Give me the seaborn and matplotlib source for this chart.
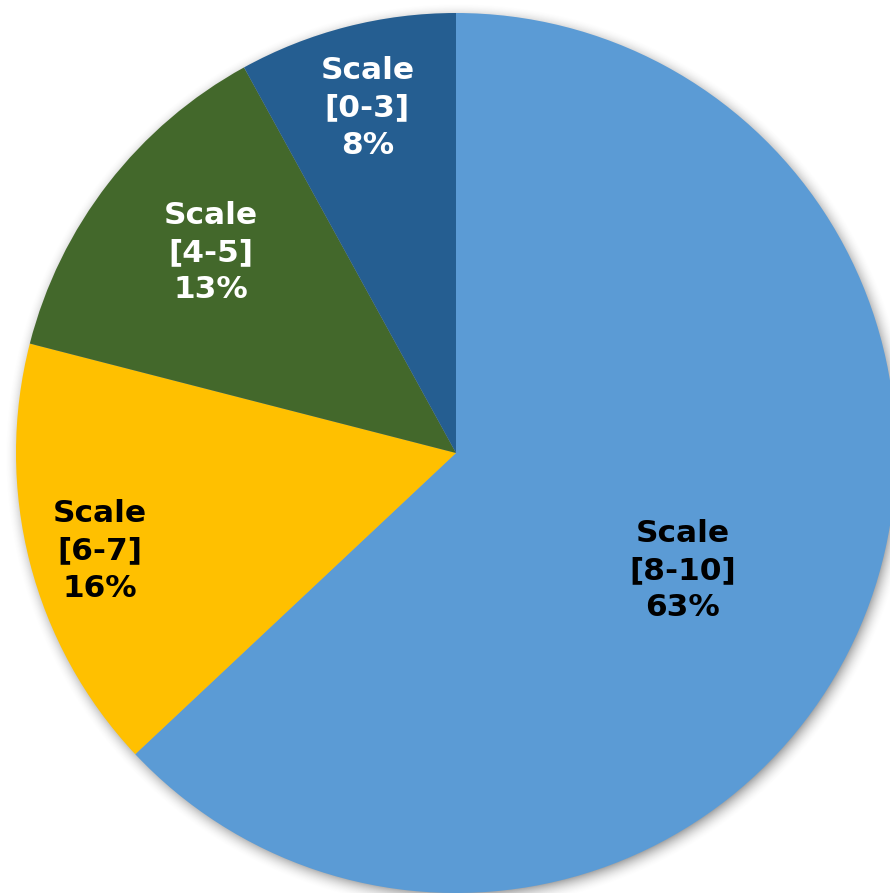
import numpy as np
import matplotlib
matplotlib.use("Agg")
import matplotlib.pyplot as plt
import seaborn as sns

# Share of responses by score band
categories = ["Scale\n[8-10]", "Scale\n[6-7]", "Scale\n[4-5]", "Scale\n[0-3]"]
shares = [63, 16, 13, 8]
pct_labels = ["63%", "16%", "13%", "8%"]

sns.set_theme(style="white")
plt.rcParams["font.family"] = ["DejaVu Sans"]

colors = sns.color_palette(["#5B9BD5", "#FFC000", "#43682B", "#255E91"])
text_colors = ["black", "black", "white", "white"]

W, H = 890, 893
fig = plt.figure(figsize=(W / 100, H / 100), dpi=100)
ax = fig.add_axes([0, 0, 1, 1])

cx, cy, R = 456, H - 453, 440

# soft drop shadow under the pie
yy, xx = np.mgrid[0:H, 0:W]
sx, sy = cx + 2, (H - cy) + 3
d = np.hypot(xx - sx, yy - sy)
t = np.clip((R + 14 - d) / 18.0, 0, 1)
alpha = t * t * 0.5
shadow = np.zeros((H, W, 4))
shadow[..., :3] = 0.3
shadow[..., 3] = alpha
ax.imshow(shadow, extent=(0, W, 0, H), origin="upper", zorder=0)

wedges, _ = ax.pie(shares, colors=colors, startangle=90, counterclock=False,
                   center=(cx, cy), radius=R, frame=True,
                   wedgeprops=dict(linewidth=0))
for w in wedges:
    w.set_zorder(1)
ax.set_xlim(0, W)
ax.set_ylim(0, H)
ax.set_aspect("equal")
ax.axis("off")

# label placement: radial fraction and small angular nudge per wedge
label_r = [0.58, 0.84, 0.72, 0.81]
label_dang = [-4.0, 1.0, -1.5, 0.0]
for w, cat, pct, tc, fr, da in zip(wedges, categories, pct_labels, text_colors,
                                   label_r, label_dang):
    ang = np.deg2rad((w.theta1 + w.theta2) / 2 + da)
    x = cx + fr * R * np.cos(ang)
    y = cy + fr * R * np.sin(ang)
    ax.text(x, y, f"{cat}\n{pct}", ha="center", va="center", color=tc,
            fontsize=22.5, fontweight="bold", linespacing=1.36, zorder=3)

fig.savefig("out.png", dpi=100)
